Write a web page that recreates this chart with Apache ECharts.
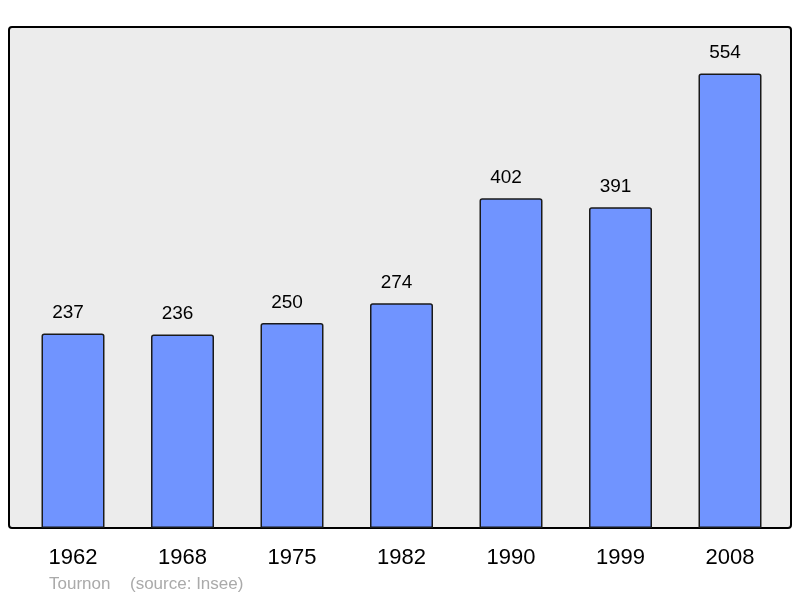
<!DOCTYPE html>
<html>
<head>
<meta charset="utf-8">
<script src="https://cdn.jsdelivr.net/npm/echarts@6/dist/echarts.min.js"></script>
<style>
html,body{margin:0;padding:0;background:#fff;}
#main{width:800px;height:598px;}
</style>
</head>
<body>
<div id="main"></div>
<script>
var categories = ['1962', '1968', '1975', '1982', '1990', '1999', '2008'];
var population = [237, 236, 250, 274, 402, 391, 554];
var placeName = 'Tournon';
var sourceText = '(source: Insee)';

var chart = echarts.init(document.getElementById('main'), null, {renderer: 'canvas'});
var font = '"Liberation Sans", Arial, sans-serif';
chart.setOption({
  animation: false,
  backgroundColor: '#ffffff',
  graphic: [
    {type: 'rect', z: -10, shape: {x: 9, y: 27, width: 782, height: 501, r: 3},
     style: {fill: '#ececec', stroke: '#000', lineWidth: 2}},
    {type: 'text', left: 49, top: 576, style: {text: placeName, fill: '#aaaaaa', font: '17px ' + font}},
    {type: 'text', left: 130, top: 576, style: {text: sourceText, fill: '#aaaaaa', font: '17px ' + font}}
  ],
  grid: {left: 18.25, right: 15.25, top: 35.8, bottom: 70},
  xAxis: {
    type: 'category', data: categories,
    axisLine: {show: false}, axisTick: {show: false},
    axisLabel: {fontSize: 22, color: '#000', fontFamily: font, margin: 19}
  },
  yAxis: {type: 'value', min: 0, max: 600, show: false, splitLine: {show: false}},
  series: [{
    type: 'bar', data: population, barWidth: 63,
    itemStyle: {color: '#7094ff', borderColor: '#1a1a1a', borderWidth: 1.5, borderRadius: [2, 2, 0, 0]},
    label: {show: true, position: 'top', distance: 11, offset: [-5, 0], fontSize: 19, color: '#000', fontFamily: font}
  }]
});
</script>
</body>
</html>
